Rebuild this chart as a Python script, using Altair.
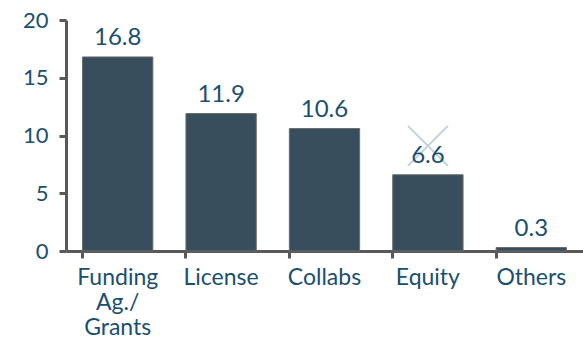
import altair as alt
import pandas as pd

# Revenue sources (values shown above each bar)
categories = ["Funding Ag./ Grants", "License", "Collabs", "Equity", "Others"]
values = [16.8, 11.9, 10.6, 6.6, 0.3]

# Crossed-out marker drawn over the Equity column
marker_category = ["Equity"]
marker_value = [9.1]

TEXT = "#1b4f6e"
AXIS = "#595959"
FONT = "Lato"

df = pd.DataFrame({"category": categories, "value": values})
mk = pd.DataFrame({"category": marker_category, "value": marker_value})

x = alt.X(
    "category:N",
    sort=categories,
    title=None,
    scale=alt.Scale(paddingInner=0.32, paddingOuter=0.16),
    axis=alt.Axis(
        labelExpr="split(datum.label, ' ')",
        labelAngle=0,
        labelFont=FONT,
        labelFontSize=23,
        labelColor=TEXT,
        labelLineHeight=25,
        labelPadding=8,
        labelBaseline="top",
        bandPosition=0,
        domainColor=AXIS,
        domainWidth=3,
        tickColor=AXIS,
        tickWidth=3,
        tickSize=7,
        grid=False,
    ),
)

y = alt.Y(
    "value:Q",
    title=None,
    scale=alt.Scale(domain=[0, 20], nice=False),
    axis=alt.Axis(
        values=[0, 5, 10, 15, 20],
        labelFont=FONT,
        labelFontSize=22,
        labelColor=TEXT,
        labelPadding=11,
        domainColor=AXIS,
        domainWidth=3,
        tickColor=AXIS,
        tickWidth=3,
        tickSize=7,
        grid=False,
    ),
)

bars = alt.Chart(df).mark_bar(
    color="#384e5c", stroke="#6b6b6b", strokeWidth=1
).encode(x=x, y=y)

labels = alt.Chart(df).mark_text(
    baseline="bottom", dy=-7, font=FONT, fontSize=24, color=TEXT
).encode(x=x, y=y, text=alt.Text("value:Q", format=".1f"))

cross = alt.Chart(mk).mark_point(
    shape="M-1,-1L1,1M-1,1L1,-1",
    size=1600,
    filled=False,
    stroke="#c5d1d8",
    strokeWidth=2,
    opacity=1,
).encode(x=x, y=y)

chart = (
    alt.layer(bars, cross, labels)
    .properties(
        width=517,
        height=231,
        autosize=alt.AutoSizeParams(type="none"),
        padding={"left": 66, "top": 20, "right": 0, "bottom": 89},
        background="white",
    )
    .configure_view(stroke=None)
)

chart.save("out.html", embed_options={"renderer": "svg", "actions": False})
